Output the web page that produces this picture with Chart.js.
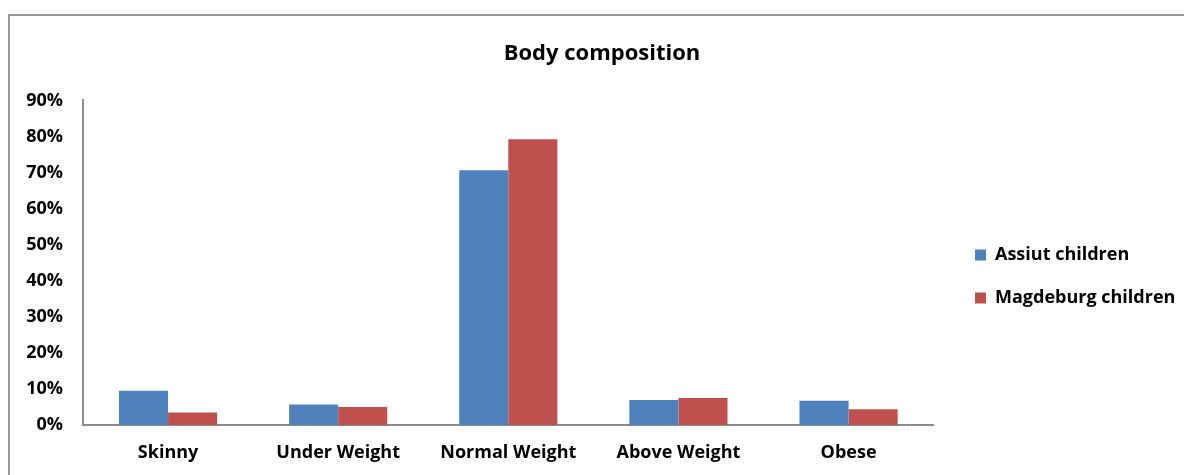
<!DOCTYPE html>
<html>
<head>
<meta charset="utf-8">
<script src="https://cdn.jsdelivr.net/npm/chart.js@4"></script>
<style>
  body { margin: 0; background: #fff; overflow: hidden; }
  #box {
    position: absolute; left: 8px; top: 14px;
    width: 1188px; height: 461px;
    border-left: 2px solid #9a9a9a; border-top: 2px solid #9a9a9a;
  }
</style>
</head>
<body>
<div id="box"><canvas id="myChart" width="1188" height="461"></canvas></div>
<script>
const categories = ["Skinny", "Under Weight", "Normal Weight", "Above Weight", "Obese"];
const assiut = [9.5, 5.7, 70.6, 6.9, 6.7];
const magdeburg = [3.5, 5.0, 79.2, 7.5, 4.4];
const yTicks = [0, 10, 20, 30, 40, 50, 60, 70, 80, 90];

const ctx = document.getElementById("myChart").getContext("2d");
const font = "'Open Sans', sans-serif";

// Excel-like placement: title centred on the whole frame, legend right of the plot
const boxPlace = {
  id: "boxPlace",
  beforeDraw: (chart) => {
    chart.titleBlock.left = 0;
    chart.titleBlock.right = 1184;
    const lg = chart.legend;
    const pad = lg.options.labels.padding;
    lg.left = 965 - pad;
    lg.right = 1188;
    lg.top = 239 - 9 - pad;
    lg.bottom = lg.top + 200;
  },
};

new Chart(ctx, {
  type: "bar",
  data: {
    labels: categories,
    datasets: [
      { label: "Assiut children", data: assiut, backgroundColor: "#4F81BD" },
      { label: "Magdeburg children", data: magdeburg, backgroundColor: "#C0504D" },
    ],
  },
  options: {
    responsive: false,
    animation: false,
    layout: { padding: { left: 0, right: 29, bottom: 0 } },
    datasets: { bar: { categoryPercentage: 0.577, barPercentage: 1 } },
    scales: {
      x: {
        afterFit: (scale) => { scale.height = 52; },
        grid: { display: false, drawTicks: false },
        border: { color: "#8c8c8c", width: 2 },
        ticks: { color: "#000", padding: 17, maxRotation: 0, font: { family: font, size: 18, weight: "bold" } },
      },
      y: {
        min: 0,
        max: 90,
        afterBuildTicks: (scale) => { scale.ticks = yTicks.map((v) => ({ value: v })); },
        afterFit: (scale) => { scale.width = 73; },
        grid: { display: false, drawTicks: false },
        border: { color: "#8c8c8c", width: 2 },
        ticks: {
          color: "#000",
          padding: 20,
          callback: (v) => v + "%",
          font: { family: font, size: 18, weight: "bold" },
        },
      },
    },
    plugins: {
      title: {
        display: true,
        text: "Body composition",
        color: "#000",
        font: { family: font, size: 22, weight: "bold" },
        padding: { top: 25, bottom: 33 },
      },
      legend: {
        position: "right",
        align: "start",
        labels: {
          color: "#000",
          boxWidth: 11,
          boxHeight: 11,
          padding: 25,
          font: { family: font, size: 18, weight: "bold" },
        },
      },
      tooltip: { enabled: false },
    },
  },
  plugins: [boxPlace],
});
</script>
</body>
</html>
